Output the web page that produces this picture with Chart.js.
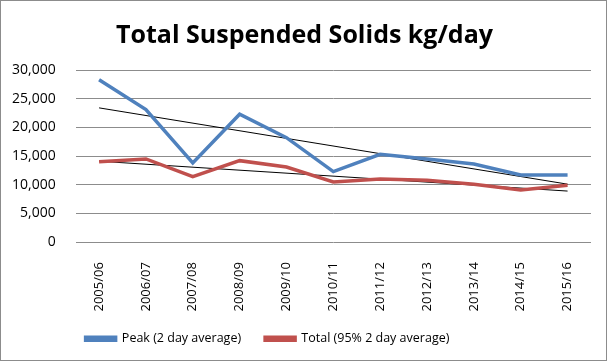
<!DOCTYPE html>
<html lang="en">
<head>
  <meta charset="UTF-8" />
  <title>Total Suspended Solids kg/day</title>
  <script src="https://cdn.jsdelivr.net/npm/chart.js@4"></script>
  <style>
    body {
      margin: 0;
      padding: 0;
      background: #ffffff;
    }
    .frame {
      width: 605px;
      height: 359px;
      border: 1px solid #8c8c8c;
      position: relative;
    }
  </style>
</head>
<body>
  <div class="frame">
    <canvas id="chart" width="605" height="359"></canvas>
  </div>

  <script>
    const years = ["2005/06", "2006/07", "2007/08", "2008/09", "2009/10", "2010/11",
                   "2011/12", "2012/13", "2013/14", "2014/15", "2015/16"];
    const peak = [28300, 23100, 13800, 22300, 18200, 12300, 15300, 14500, 13600, 11700, 11700];
    const total = [14000, 14500, 11400, 14200, 13100, 10500, 11000, 10800, 10100, 9100, 9900];
    // trendline end values
    const peakTrend = [23400, 10100];
    const totalTrend = [14100, 8900];
    const yTicks = [0, 5000, 10000, 15000, 20000, 25000, 30000];

    const font = "'Open Sans', 'DejaVu Sans', sans-serif";

    function trend(ends) {
      return [
        { x: years[0], y: ends[0] },
        { x: years[years.length - 1], y: ends[1] }
      ];
    }

    // nudge title and legend to where they sit in the original
    const nudgeBoxes = {
      id: "nudgeBoxes",
      afterLayout(chart) {
        chart.titleBlock.left += 13;
        chart.titleBlock.right += 13;
        chart.legend.left -= 24;
        chart.legend.right -= 24;
        chart.legend.top -= 15;
        chart.legend.bottom -= 15;
      }
    };

    new Chart(document.getElementById("chart"), {
      type: "line",
      data: {
        labels: years,
        datasets: [
          {
            label: "Peak (2 day average)",
            data: peak,
            borderColor: "#4f81bd",
            backgroundColor: "#4f81bd",
            borderWidth: 3.5,
            pointRadius: 0,
            tension: 0
          },
          {
            label: "Total (95% 2 day average)",
            data: total,
            borderColor: "#c0504d",
            backgroundColor: "#c0504d",
            borderWidth: 3.5,
            pointRadius: 0,
            tension: 0
          },
          {
            label: "trend-peak",
            data: trend(peakTrend),
            borderColor: "#000000",
            borderWidth: 1,
            pointRadius: 0
          },
          {
            label: "trend-total",
            data: trend(totalTrend),
            borderColor: "#000000",
            borderWidth: 1,
            pointRadius: 0
          }
        ]
      },
      options: {
        responsive: false,
        animation: false,
        layout: {
          padding: { left: -9, right: 15, top: 20, bottom: -10 }
        },
        plugins: {
          title: {
            display: true,
            text: "Total Suspended Solids kg/day",
            color: "#000000",
            font: { family: font, size: 25, weight: "bold" },
            padding: { top: 0, bottom: 19 }
          },
          legend: {
            position: "bottom",
            labels: {
              filter: item => !item.text.startsWith("trend"),
              boxWidth: 30,
              boxHeight: 3,
              color: "#000000",
              font: { family: font, size: 12.5 },
              padding: 24
            }
          },
          tooltip: { enabled: false }
        },
        scales: {
          x: {
            offset: true,
            grid: { display: false },
            border: { display: false },
            ticks: {
              color: "#000000",
              font: { family: font, size: 13 },
              maxRotation: 90,
              minRotation: 90,
              padding: 12
            }
          },
          y: {
            min: 0,
            max: 30000,
            afterBuildTicks: axis => {
              axis.ticks = yTicks.map(v => ({ value: v }));
            },
            grid: {
              color: "#8c8c8c",
              drawTicks: false
            },
            border: { display: false },
            ticks: {
              color: "#000000",
              font: { family: font, size: 14 },
              padding: 20
            }
          }
        }
      },
      plugins: [nudgeBoxes]
    });
  </script>
</body>
</html>
